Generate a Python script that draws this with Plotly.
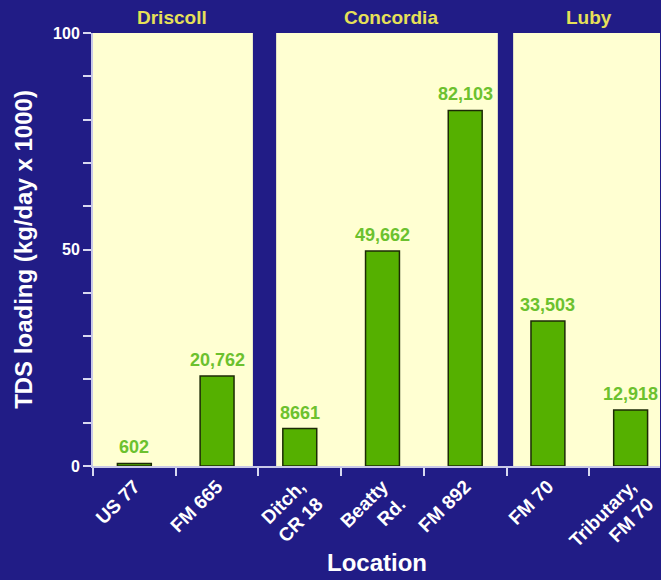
import plotly.graph_objects as go

# TDS loading by sampling location (kg/day x 1000)
locations = ["US 77", "FM 665", "Ditch,<br>CR 18", "Beatty<br>Rd.", "FM 892", "FM 70", "Tributary,<br>FM 70"]
loads = [0.602, 20.762, 8.661, 49.662, 82.103, 33.503, 12.918]
value_labels = ["602", "20,762", "8661", "49,662", "82,103", "33,503", "12,918"]
groups = ["Driscoll", "Concordia", "Luby"]
group_centers = [0.45, 3.1, 5.5]

NAVY = "#211c86"
CREAM = "#ffffd2"
BAR_GREEN = "#55b000"
LABEL_GREEN = "#6cc12e"
GOLD = "#e6e058"
FONT = "Liberation Sans, Arial, sans-serif"

fig = go.Figure()
fig.add_trace(go.Bar(
    x=locations, y=loads, width=0.41,
    marker=dict(color=BAR_GREEN, line=dict(color="#1c2a05", width=1.5)),
    hoverinfo="skip", showlegend=False,
))

# navy dividers between the town groups (fractions of the plot width)
for x0, x1 in [(0.282, 0.323), (0.714, 0.741)]:
    fig.add_shape(type="rect", xref="x domain", yref="y", x0=x0, x1=x1, y0=0, y1=100,
                  fillcolor=NAVY, line=dict(width=0), layer="above")

# value labels above each bar
for loc, v, lab in zip(locations, loads, value_labels):
    fig.add_annotation(x=loc, y=v, text=f"<b>{lab}</b>", showarrow=False,
                       yanchor="bottom", yshift=4,
                       font=dict(family=FONT, size=18, color=LABEL_GREEN))

# group names across the top
for g, c in zip(groups, group_centers):
    fig.add_annotation(x=c, y=1, xref="x", yref="paper", text=f"<b>{g}</b>",
                       showarrow=False, yanchor="bottom", yshift=3,
                       font=dict(family=FONT, size=19, color=GOLD))

# x-axis title placed under the slanted location names
fig.add_annotation(x=0.5, y=-0.224, xref="paper", yref="paper", text="<b>Location</b>",
                   showarrow=False, yanchor="middle",
                   font=dict(family=FONT, size=24, color="white"))

fig.update_layout(
    width=661, height=580,
    margin=dict(l=93, r=1, t=33, b=114),
    paper_bgcolor=NAVY, plot_bgcolor=CREAM,
    font=dict(family=FONT, color="white"),
)
fig.update_xaxes(
    type="category", range=[-0.5, 6.355], automargin=False,
    tickangle=-45, tickson="boundaries",
    ticks="outside", ticklen=8, tickcolor="#d8d8f0", tickwidth=1.5,
    showline=True, linecolor="#c8c8e8", linewidth=2,
    showgrid=False, zeroline=False,
    tickfont=dict(family=FONT, size=19, color="white", weight="bold"),
)
fig.update_yaxes(
    range=[0, 100], tickvals=[0, 50, 100], automargin=False,
    ticks="outside", ticklen=8, tickcolor="#d8d8f0", tickwidth=1.5,
    minor=dict(dtick=10, ticks="outside", ticklen=8, tickcolor="#d8d8f0", tickwidth=1.5, showgrid=False),
    showline=True, linecolor="#c8c8e8", linewidth=2,
    showgrid=False, zeroline=False,
    tickfont=dict(family=FONT, size=16, color="white", weight="bold"),
    title=dict(text="<b>TDS loading (kg/day x 1000)</b>", font=dict(family=FONT, size=24, color="white"), standoff=14),
)

fig.write_html("out.html")
